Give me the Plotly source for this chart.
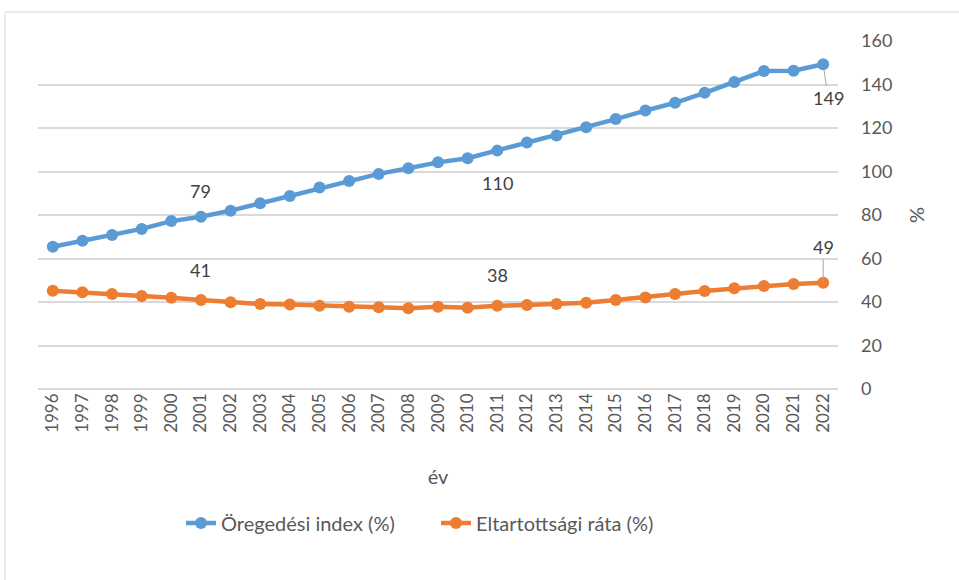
import plotly.graph_objects as go

years = [str(y) for y in range(1996, 2023)]
oregedesi = [65.4, 68.2, 70.8, 73.6, 77.2, 79.2, 82.0, 85.4, 88.7, 92.6, 95.6, 98.9, 101.5, 104.2,
             106.1, 109.6, 113.3, 116.6, 120.3, 124.1, 128.0, 131.6, 136.2, 141.1, 146.2, 146.3, 149.3]
eltartottsagi = [45.2, 44.5, 43.7, 42.8, 42.0, 40.9, 39.9, 39.1, 38.9, 38.3, 37.8, 37.6, 37.1, 37.8,
                 37.4, 38.3, 38.6, 39.1, 39.7, 40.9, 42.1, 43.7, 45.1, 46.3, 47.4, 48.3, 48.9]
y_ticks = [0, 20, 40, 60, 80, 100, 120, 140, 160]

BLUE = "#5B9BD5"
ORANGE = "#ED7D31"
TXT = "#595959"
FONT = "Lato"

fig = go.Figure()
fig.add_trace(go.Scatter(x=years, y=oregedesi, mode="lines+markers", name="Öregedési index (%)",
                         line=dict(color=BLUE, width=4.5), marker=dict(size=12, color=BLUE)))
fig.add_trace(go.Scatter(x=years, y=eltartottsagi, mode="lines+markers", name="Eltartottsági ráta (%)",
                         line=dict(color=ORANGE, width=4.5), marker=dict(size=12, color=ORANGE)))

ann_font = dict(family=FONT, size=18, color="#404040")
i01 = years.index("2001")
i11 = years.index("2011")
i22 = years.index("2022")
annotations = [
    dict(x=i01, y=oregedesi[i01], text=f"{round(oregedesi[i01])}", showarrow=False, yshift=26),
    dict(x=i11, y=oregedesi[i11], text=f"{round(oregedesi[i11])}", showarrow=False, yshift=-32),
    dict(x=i22, y=oregedesi[i22], text=f"{round(oregedesi[i22])}", showarrow=True, arrowhead=0,
         arrowwidth=1, arrowcolor="#a6a6a6", ax=5, ay=34, standoff=6),
    dict(x=i01, y=eltartottsagi[i01], text=f"{round(eltartottsagi[i01])}", showarrow=False, yshift=30),
    dict(x=i11, y=eltartottsagi[i11], text=f"{round(eltartottsagi[i11])}", showarrow=False, yshift=31),
    dict(x=i22, y=eltartottsagi[i22], text=f"{round(eltartottsagi[i22])}", showarrow=True, arrowhead=0,
         arrowwidth=1, arrowcolor="#a6a6a6", ax=0, ay=-36, standoff=0),
]
for a in annotations:
    a["font"] = ann_font
    a["xref"] = "x"
    a["yref"] = "y"

fig.update_layout(
    width=959, height=580,
    margin=dict(l=38, r=121, t=41, b=191),
    paper_bgcolor="white", plot_bgcolor="white",
    font=dict(family=FONT, size=16, color=TXT),
    showlegend=True,
    legend=dict(orientation="h", x=0.4975, xanchor="center", y=-0.385, yanchor="middle",
                font=dict(family=FONT, size=20, color=TXT), entrywidth=210, entrywidthmode="pixels"),
    annotations=annotations,
    shapes=[dict(type="rect", xref="paper", yref="paper", x0=-0.04125, x1=1.165, y0=-0.578, y1=1.0833,
                 line=dict(color="#d9d9d9", width=1), layer="below")],
    xaxis=dict(type="category", range=[-0.5, 26.5], tickangle=-90, showgrid=False, showline=False,
               ticks="", tickfont=dict(family=FONT, size=17, color=TXT),
               title=dict(text="év", font=dict(family=FONT, size=20, color=TXT), standoff=38)),
    yaxis=dict(side="right", range=[0, 160], tickvals=y_ticks, showgrid=True, gridcolor="#d9d9d9",
               gridwidth=1.5, zeroline=True, zerolinecolor="#d9d9d9", zerolinewidth=1.5, showline=False,
               ticks="", tickfont=dict(family=FONT, size=18, color=TXT), ticklabelstandoff=22,
               title=dict(text="%", font=dict(family=FONT, size=20, color=TXT), standoff=18)),
)

fig.write_html("out.html", config={"displayModeBar": False},
               post_script="document.body.style.margin='0';")
